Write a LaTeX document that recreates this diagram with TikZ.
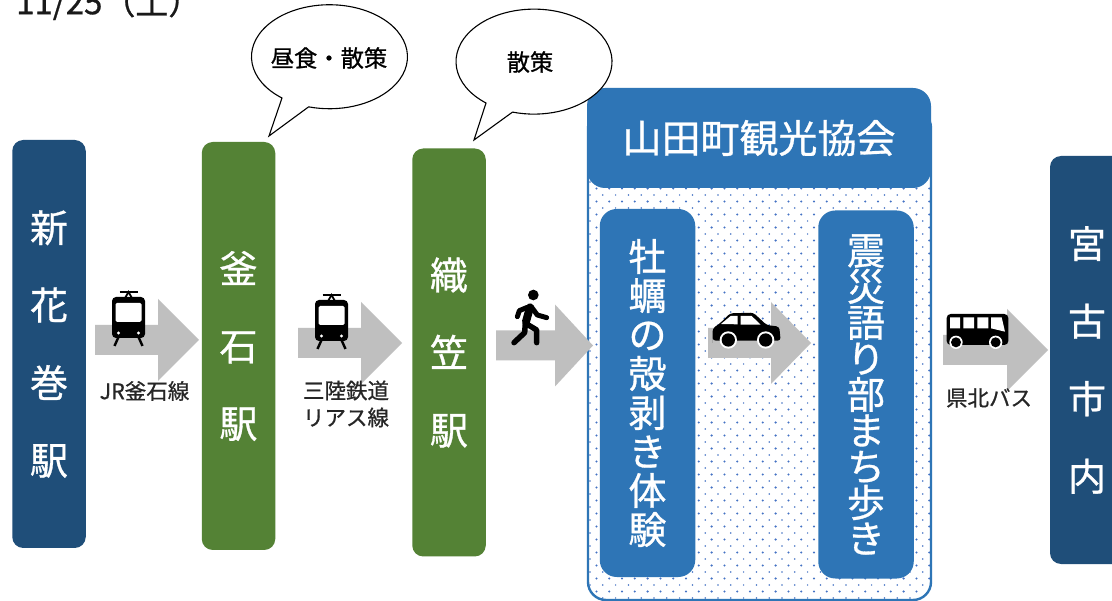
\documentclass[tikz,border=0pt]{standalone}
\usepackage{fontspec}
\setmainfont{Noto Sans CJK JP}[FakeBold=0.8]
\usetikzlibrary{shapes.geometric}
\definecolor{navy}{HTML}{1F4E79}
\definecolor{grass}{HTML}{548235}
\definecolor{sky}{HTML}{2E75B6}
\definecolor{arrowgray}{HTML}{BFBFBF}
\definecolor{dotblue}{HTML}{4472C4}
\newcommand{\fsz}[2]{\fontsize{#1}{#2}\selectfont}
\newcommand{\blockarrow}[4]{\fill[arrowgray] (#1,#2-15) -- (#3,#2-15) -- (#3,#2-41) -- (#4,#2) -- (#3,#2+41) -- (#3,#2+15) -- (#1,#2+15) -- cycle;}
\newcommand{\trainicon}[2]{%
\begin{scope}[shift={(#1,#2)}]
\draw[line width=2.2pt,black] (-9,0) -- (9,0);
\draw[line width=1.8pt,black] (-4,7) -- (0,0) -- (4,7);
\fill[black,rounded corners=4pt] (-16.5,5) rectangle (16.5,46);
\fill[white,rounded corners=1.5pt] (-13,11) rectangle (13,30);
\fill[white] (-10,41) circle (1.7) (10,41) circle (1.7);
\draw[line width=2.4pt,black] (-10,45) -- (-14,54) (10,45) -- (14,54);
\end{scope}}
\tikzset{
  stationbox/.style={rounded corners=11pt,minimum width=73.5pt,text=white,inner sep=0pt,align=center,font=\fsz{38}{77.5}},
  activity/.style={fill=sky,rounded corners=17pt,minimum width=95.5pt,minimum height=368pt,text=white,inner sep=0pt,align=center},
  smalllabel/.style={text=black!85,inner sep=0pt,align=center,font=\fsz{21.5}{27}},
  callout/.style={fill=white,draw=black,line width=1.1pt,line join=miter},
}
\begin{document}
\begin{tikzpicture}[x=1pt,y=-1pt]
\clip (0,0) rectangle (1112,601);
\fill[white] (0,0) rectangle (1112,601);
% date
\node[anchor=west,inner sep=0pt,text=black!90] (date) at (16,3) {\fsz{33}{38}11/25（土）};
% outer panel
\begin{scope}
\clip[rounded corners=18pt] (587.5,100) rectangle (930.5,600);
\foreach \r in {0,...,76} {
  \pgfmathsetmacro{\yy}{104+6.5*\r}
  \pgfmathsetmacro{\off}{mod(\r,2)*6.4}
  \pgfmathsetmacro{\rad}{mod(\r,2)*0.3+0.85}
  \foreach \c in {0,...,26} {
    \fill[dotblue] (590+\off+12.8*\c,\yy) circle (\rad);
  }
}
\end{scope}
\draw[sky,line width=2.4pt,rounded corners=18pt] (588,110) rectangle (931,600);
\node[fill=sky,rounded corners=18pt,minimum width=344pt,minimum height=100pt,inner sep=0pt,text=white,font=\fsz{39}{44}] (title) at (759,138) {\raisebox{-4pt}{山田町観光協会}};
% stations
\node[stationbox,fill=navy,minimum height=408pt] (shin) at (49,344) {新\\花\\巻\\駅};
\node[stationbox,fill=grass,minimum height=408pt] (kama) at (238.5,346) {釜\\石\\駅};
\node[stationbox,fill=grass,minimum height=408pt] (ori) at (449,352.5) {織\\笠\\駅};
\node[stationbox,fill=navy,minimum height=408pt,minimum width=90pt] (miya) at (1095,360) {};
\node[text=white,inner sep=0pt,align=center,font=\fsz{38}{77.5}] (miyat) at (1087,360) {宮\\古\\市\\内};
% activities
\node[activity,font=\fsz{38}{39}] (kaki) at (647.5,393) {牡\\蠣\\の\\殻\\剥\\き\\体\\験};
\node[activity,font=\fsz{38}{36}] (shin2) at (866,394.5) {震\\災\\語\\り\\部\\ま\\ち\\歩\\き};
% arrows
\blockarrow{95}{340}{158}{199}
\blockarrow{298}{343}{361}{402}
\blockarrow{496}{345.5}{555}{593}
\blockarrow{708}{343}{771}{811}
\blockarrow{943}{350}{1007}{1048}
% labels
\node[smalllabel] (l1) at (144.5,391) {JR釜石線};
\node[smalllabel] (l2) at (346,404) {三陸鉄道\\リアス線};
\node[smalllabel] (l3) at (989,398) {県北バス};
% train icons
\trainicon{128.5}{292}
\trainicon{331.5}{295}
% walker
\begin{scope}[shift={(490,280)},x=0.3333pt,y=-0.3333pt]
\fill[black] (130,45) circle (16);
\draw[black,line width=5pt,line cap=round,line join=round] (112,82) -- (88,92) -- (82,110);
\draw[black,line width=5pt,line cap=round,line join=round] (125,82) -- (142,105) -- (170,113);
\draw[black,line width=8pt,line cap=round] (120,82) -- (108,125);
\draw[black,line width=5.5pt,line cap=round,line join=round] (106,130) -- (104,158) -- (72,188);
\draw[black,line width=5.5pt,line cap=round,line join=round] (110,132) -- (140,150) -- (140,188);
\end{scope}
% car
\begin{scope}[shift={(490,280)},x=0.3333pt,y=-0.3333pt]
\fill[black,rounded corners=3pt] (668,180) -- (668,145) -- (690,130) -- (720,100) -- (790,98) -- (830,135) -- (868,140) -- (872,182) -- (668,182) -- cycle;
\fill[white] (693,132) -- (722,108) -- (743,108) -- (743,133) -- cycle;
\fill[white] (752,108) -- (785,108) -- (812,134) -- (752,134) -- cycle;
\fill[white] (715,180) circle (26) (827,180) circle (26);
\fill[black] (715,180) circle (20) (827,180) circle (20);
\end{scope}
% bus
\begin{scope}[shift={(930,290)},x=0.3333pt,y=-0.3333pt]
\fill[black,rounded corners=4pt] (50,72) rectangle (235,165);
\fill[white] (60,82) rectangle (90,115) (100,82) rectangle (132,115) (142,82) rectangle (175,115);
\fill[white] (183,82) -- (215,82) -- (225,125) -- (183,115) -- cycle;
\fill[white] (78,157) circle (20) (197,157) circle (20);
\fill[black] (78,157) circle (15) (197,157) circle (15);
\end{scope}
% callouts
\draw[callout] (282,98) arc[start angle=127.5,delta angle=338,x radius=78,y radius=52]
  -- (269,136) -- cycle;
\node[inner sep=0pt,font=\fsz{23.3}{28}] (c1) at (329,58) {昼食・散策};
\draw[callout] (486,103) arc[start angle=128,delta angle=338,x radius=78,y radius=52.5]
  -- (474,140) -- cycle;
\node[inner sep=0pt,font=\fsz{23.3}{28}] (c2) at (530,62) {散策};
\end{tikzpicture}
\end{document}
